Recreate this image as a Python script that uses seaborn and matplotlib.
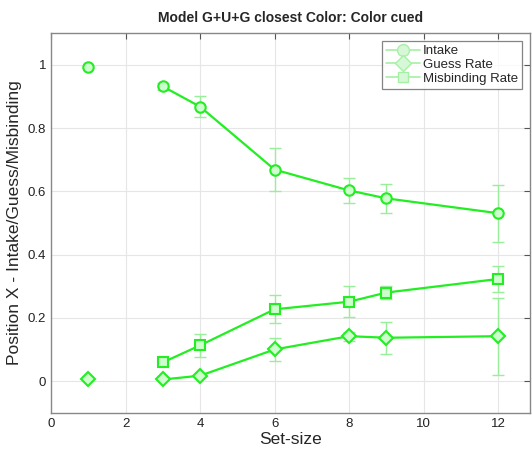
import numpy as np
import pandas as pd
import matplotlib
matplotlib.use('Agg')
import matplotlib.pyplot as plt
import seaborn as sns
from matplotlib.lines import Line2D

set_size = [3, 4, 6, 8, 9, 12]
intake = [0.932, 0.868, 0.669, 0.603, 0.578, 0.531]
intake_err = [0.01, 0.034, 0.069, 0.04, 0.046, 0.09]
guess = [0.005, 0.017, 0.100, 0.142, 0.137, 0.142]
guess_err = [0.0, 0.0, 0.036, 0.014, 0.051, 0.122]
misbind = [0.059, 0.113, 0.227, 0.251, 0.280, 0.323]
misbind_err = [0.012, 0.037, 0.044, 0.049, 0.02, 0.041]

# set size 1 (no misbinding possible)
ss1 = [1]
intake_ss1 = [0.993]
guess_ss1 = [0.005]

sns.set_style('white')
plt.rcParams['font.family'] = ['Liberation Sans', 'DejaVu Sans']

line_col = '#22ee22'
face_col = '#ccffcc'
err_col = '#99ee99'

df = pd.DataFrame({
    'set_size': set_size * 3,
    'value': intake + guess + misbind,
    'err': intake_err + guess_err + misbind_err,
    'measure': ['Intake'] * 6 + ['Guess Rate'] * 6 + ['Misbinding Rate'] * 6,
})

fig = plt.figure(figsize=(5.32, 4.51), dpi=100)
ax = fig.add_axes([0.096, 0.085, 0.9, 0.841])

markers = {'Intake': 'o', 'Guess Rate': 'D', 'Misbinding Rate': 's'}
sizes = {'Intake': 7.5, 'Guess Rate': 7.5, 'Misbinding Rate': 6.5}
for m, sub in df.groupby('measure', sort=False):
    ax.errorbar(sub['set_size'], sub['value'], yerr=sub['err'], fmt='none',
                ecolor=err_col, elinewidth=1, capsize=4.5, capthick=1, zorder=2)
    sns.lineplot(data=sub, x='set_size', y='value', ax=ax, color=line_col,
                 linewidth=1.6, marker=markers[m], markersize=sizes[m],
                 markerfacecolor=face_col, markeredgecolor=line_col,
                 markeredgewidth=1.5, zorder=3, legend=False)

ax.plot(ss1, intake_ss1, linestyle='none', marker='o', markersize=7.5,
        markerfacecolor=face_col, markeredgecolor=line_col, markeredgewidth=1.5)
ax.plot(ss1, guess_ss1, linestyle='none', marker='D', markersize=7.5,
        markerfacecolor=face_col, markeredgecolor=line_col, markeredgewidth=1.5)

ax.set_xlim(0, 12.85)
ax.set_ylim(-0.1, 1.1)
ax.set_xticks([0, 2, 4, 6, 8, 10, 12])
ax.set_yticks([0, 0.2, 0.4, 0.6, 0.8, 1])
ax.set_yticklabels(['0', '0.2', '0.4', '0.6', '0.8', '1'])
ax.grid(True, color='#e6e6e6', linewidth=0.8)
ax.tick_params(direction='in', top=True, right=True, labelsize=9.5, length=4,
               color='#555555', labelcolor='#222222')
for s in ax.spines.values():
    s.set_color('#888888')
    s.set_linewidth(1)

ax.set_xlabel('Set-size', fontsize=12.5, labelpad=2)
ax.set_ylabel('Position X - Intake/Guess/Misbinding', fontsize=12.5, labelpad=4)
ax.set_title('Model G+U+G closest Color: Color cued', fontsize=10,
             fontweight='bold', pad=8)

leg_col = '#a6f0a6'
handles = [Line2D([], [], color=leg_col, marker=markers[k], markersize=sizes[k] + 1,
                  markerfacecolor='#d6f8d6', markeredgecolor=leg_col, linewidth=1.2)
           for k in markers]
leg = ax.legend(handles, list(markers.keys()), loc='upper right', fontsize=9.5,
                frameon=True, fancybox=False, borderaxespad=0.6,
                handlelength=2.6, handletextpad=0.2, labelspacing=0.1,
                borderpad=0.3)
leg.get_frame().set_edgecolor('#666666')
leg.get_frame().set_linewidth(0.9)

fig.savefig('out.png', dpi=100)
